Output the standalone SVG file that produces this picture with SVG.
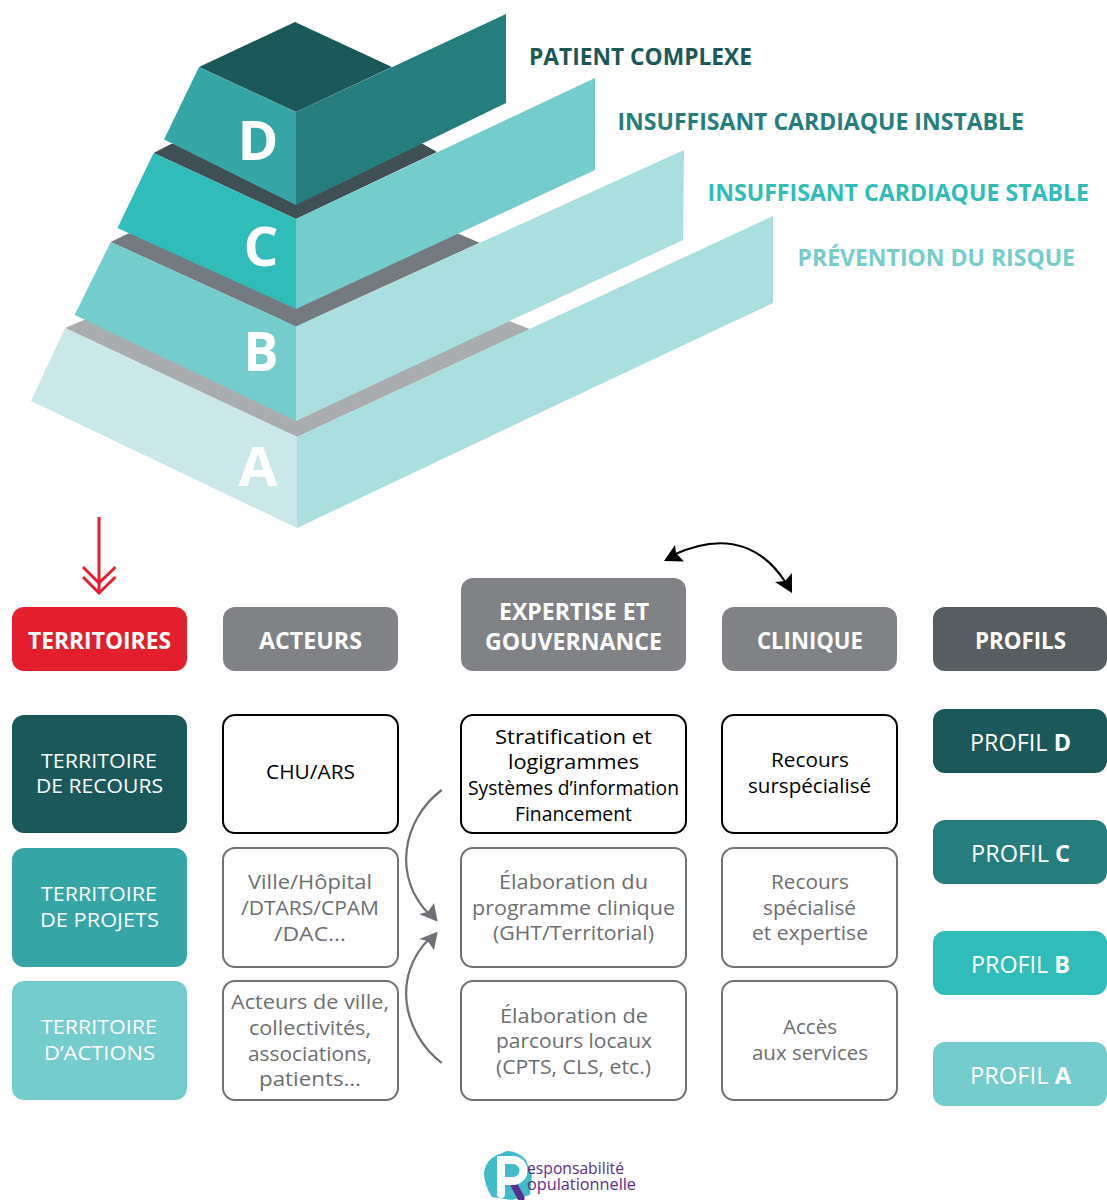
<svg xmlns="http://www.w3.org/2000/svg" width="1107" height="1200" viewBox="0 0 1107 1200">
<style>
text{font-family:"Open Sans","Noto Sans","Liberation Sans",sans-serif}
.t{text-anchor:middle}
.h{font-size:22.5px;font-weight:700;fill:#fff}
.s{font-size:20px;fill:#fff}
.p{font-size:23px;fill:#fff}
.p tspan{font-weight:700}
.b{font-size:20.5px;fill:#000}
.g{font-size:20.5px;fill:#6d6e71}
.big{font-size:53px;font-weight:700;fill:#fff}
.lab{font-size:23px;font-weight:700}
.k{fill:#fff;stroke:#000;stroke-width:2}
.e{fill:#fff;stroke:#6d7275;stroke-width:2}
.cg{fill:none;stroke:#6d7074;stroke-width:2.2}
</style>
<g id="pyramid">
<g id="level-a">
<polygon fill="#a9adb0" points="65,328 84,320 509,321 530,329 297,437"/>
<polygon fill="#cae8ea" points="65,328 297,437 297,528 31,401"/>
<polygon fill="#aadedf" points="297,437 773,216 773,303 550,408 297,528"/>
<text class="t big" x="258" y="486" textLength="39" lengthAdjust="spacingAndGlyphs">A</text>
</g>
<g id="level-b">
<polygon fill="#737a80" points="110.7,242 128,233.5 459,234 479.6,242.8 296,326.5"/>
<polygon fill="#74cccd" points="110.7,242 296,326.5 296,421 74.6,315"/>
<polygon fill="#aadedf" points="296,326.5 684,150 683,240 296,421"/>
<text class="t big" x="261" y="371" textLength="35" lengthAdjust="spacingAndGlyphs">B</text>
</g>
<g id="level-c">
<polygon fill="#404f53" points="153.600,153 171,144 423,144 437,152 296,219"/>
<polygon fill="#30bcb8" points="153.600,153 296,219 296,309 117.500,228"/>
<polygon fill="#74cccd" points="296,219 595,78 595,170 296,309"/>
<text class="t big" x="261" y="266" textLength="35" lengthAdjust="spacingAndGlyphs">C</text>
</g>
<g id="level-d">
<polygon fill="#1a5859" points="295,22 199,67 296,112 392,67"/>
<polygon fill="#35a5a6" points="199,67 296,112 296,205 164,139.500"/>
<polygon fill="#267d7e" points="296,112 506,14 506,103 296,205"/>
<text class="t big" x="258" y="160" textLength="41" lengthAdjust="spacingAndGlyphs">D</text>
</g>
</g>
<g id="pyramid-labels">
<text class="lab" x="529" y="65" fill="#1a5859" textLength="223" lengthAdjust="spacingAndGlyphs">PATIENT COMPLEXE</text>
<text class="lab" x="617.500" y="130" fill="#267d7e" textLength="406.500" lengthAdjust="spacingAndGlyphs">INSUFFISANT CARDIAQUE INSTABLE</text>
<text class="lab" x="707.500" y="201" fill="#30bcb8" textLength="381.500" lengthAdjust="spacingAndGlyphs">INSUFFISANT CARDIAQUE STABLE</text>
<text class="lab" x="797.500" y="266" fill="#74cccd" textLength="277.500" lengthAdjust="spacingAndGlyphs">PRÉVENTION DU RISQUE</text>
</g>
<g id="connectors">
<g id="red-arrow" fill="none" stroke="#e41f2d" stroke-width="3">
<path d="M99 517V592"/>
<path d="M83 567L99 583L115.500 567"/>
<path d="M83 577L99 593L115.500 577"/>
</g>
<path d="M673 555C712 537 755 535 786 583" fill="none" stroke="#000" stroke-width="2.200"/>
<polygon points="664,561 684,561.500 676,553 675,545"/>
<polygon points="792,593 775,582 785,581 792,573"/>
<path class="cg" d="M441.700 790C402 820 392 878 430 915"/>
<polygon fill="#6d7074" points="437.700,921.700 419,914 427.700,912 434,903"/>
<path class="cg" d="M441.700 1063C402 1032 392 975 430 938"/>
<polygon fill="#6d7074" points="437.700,931.700 419,939 427.700,941 434,950"/>
</g>
<g id="header-territoires"><rect x="12" y="607" width="175" height="64" rx="12" fill="#e41f2d"/><text class="t h" x="99.500" y="649" textLength="143" lengthAdjust="spacingAndGlyphs">TERRITOIRES</text></g>
<g id="header-acteurs"><rect x="223" y="607" width="175" height="64" rx="12" fill="#808285"/><text class="t h" x="310.500" y="649" textLength="103" lengthAdjust="spacingAndGlyphs">ACTEURS</text></g>
<g id="header-expertise"><rect x="461" y="578" width="225" height="93" rx="12" fill="#808285"/><text class="t h" x="574" y="620" textLength="150" lengthAdjust="spacingAndGlyphs">EXPERTISE ET</text><text class="t h" x="573.500" y="650" textLength="177" lengthAdjust="spacingAndGlyphs">GOUVERNANCE</text></g>
<g id="header-clinique"><rect x="722" y="607" width="175" height="64" rx="12" fill="#808285"/><text class="t h" x="810" y="649" textLength="106" lengthAdjust="spacingAndGlyphs">CLINIQUE</text></g>
<g id="header-profils"><rect x="933" y="607" width="174" height="64" rx="12" fill="#575e61"/><text class="t h" x="1020.500" y="649" textLength="91" lengthAdjust="spacingAndGlyphs">PROFILS</text></g>

<g id="territoire-recours"><rect x="12" y="715" width="175" height="118" rx="12" fill="#1a5859"/><text class="t s" x="99" y="768" textLength="116" lengthAdjust="spacingAndGlyphs">TERRITOIRE</text><text class="t s" x="99.500" y="793" textLength="127" lengthAdjust="spacingAndGlyphs">DE RECOURS</text></g>
<g id="territoire-projets"><rect x="12" y="848" width="175" height="119" rx="12" fill="#35a5a6"/><text class="t s" x="99" y="901" textLength="116" lengthAdjust="spacingAndGlyphs">TERRITOIRE</text><text class="t s" x="99.500" y="927" textLength="119" lengthAdjust="spacingAndGlyphs">DE PROJETS</text></g>
<g id="territoire-actions"><rect x="12" y="981" width="175" height="119" rx="12" fill="#74cccd"/><text class="t s" x="99" y="1034" textLength="116" lengthAdjust="spacingAndGlyphs">TERRITOIRE</text><text class="t s" x="99.500" y="1060" textLength="111" lengthAdjust="spacingAndGlyphs">D’ACTIONS</text></g>

<g id="acteurs-1"><rect class="k" x="223" y="715" width="175" height="118" rx="12"/><text class="t b" x="310.500" y="779" textLength="89" lengthAdjust="spacingAndGlyphs">CHU/ARS</text></g>
<g id="acteurs-2"><rect class="e" x="223" y="848" width="175" height="119" rx="12"/><text class="t g" x="310" y="889" textLength="124" lengthAdjust="spacingAndGlyphs">Ville/Hôpital</text><text class="t g" x="310" y="915" textLength="138" lengthAdjust="spacingAndGlyphs">/DTARS/CPAM</text><text class="t g" x="310" y="941" textLength="72" lengthAdjust="spacingAndGlyphs">/DAC…</text></g>
<g id="acteurs-3"><rect class="e" x="223" y="981" width="175" height="119" rx="12"/><text class="t g" x="310" y="1009" textLength="158" lengthAdjust="spacingAndGlyphs">Acteurs de ville,</text><text class="t g" x="310" y="1035" textLength="122" lengthAdjust="spacingAndGlyphs">collectivités,</text><text class="t g" x="310" y="1061" textLength="124" lengthAdjust="spacingAndGlyphs">associations,</text><text class="t g" x="310" y="1086" textLength="102" lengthAdjust="spacingAndGlyphs">patients…</text></g>

<g id="expertise-1"><rect class="k" x="461" y="715" width="225" height="118" rx="12"/><text class="t b" x="573.500" y="744" textLength="157" lengthAdjust="spacingAndGlyphs">Stratification et</text><text class="t b" x="573.500" y="769" textLength="131" lengthAdjust="spacingAndGlyphs">logigrammes</text><text class="t b" x="573.500" y="795" textLength="211" lengthAdjust="spacingAndGlyphs">Systèmes d’information</text><text class="t b" x="573.500" y="821" textLength="117" lengthAdjust="spacingAndGlyphs">Financement</text></g>
<g id="expertise-2"><rect class="e" x="461" y="848" width="225" height="119" rx="12"/><text class="t g" x="573.500" y="889" textLength="149" lengthAdjust="spacingAndGlyphs">Élaboration du</text><text class="t g" x="573.500" y="915" textLength="203" lengthAdjust="spacingAndGlyphs">programme clinique</text><text class="t g" x="573.500" y="940" textLength="161" lengthAdjust="spacingAndGlyphs">(GHT/Territorial)</text></g>
<g id="expertise-3"><rect class="e" x="461" y="981" width="225" height="119" rx="12"/><text class="t g" x="574" y="1023" textLength="148" lengthAdjust="spacingAndGlyphs">Élaboration de</text><text class="t g" x="574" y="1048" textLength="156" lengthAdjust="spacingAndGlyphs">parcours locaux</text><text class="t g" x="573.500" y="1074" textLength="155" lengthAdjust="spacingAndGlyphs">(CPTS, CLS, etc.)</text></g>

<g id="clinique-1"><rect class="k" x="722" y="715" width="175" height="118" rx="12"/><text class="t b" x="810" y="767" textLength="78" lengthAdjust="spacingAndGlyphs">Recours</text><text class="t b" x="809.500" y="793" textLength="123" lengthAdjust="spacingAndGlyphs">surspécialisé</text></g>
<g id="clinique-2"><rect class="e" x="722" y="848" width="175" height="119" rx="12"/><text class="t g" x="810" y="889" textLength="78" lengthAdjust="spacingAndGlyphs">Recours</text><text class="t g" x="809.500" y="915" textLength="93" lengthAdjust="spacingAndGlyphs">spécialisé</text><text class="t g" x="810" y="940" textLength="116" lengthAdjust="spacingAndGlyphs">et expertise</text></g>
<g id="clinique-3"><rect class="e" x="722" y="981" width="175" height="119" rx="12"/><text class="t g" x="810" y="1034" textLength="54" lengthAdjust="spacingAndGlyphs">Accès</text><text class="t g" x="810" y="1060" textLength="116" lengthAdjust="spacingAndGlyphs">aux services</text></g>

<g id="profil-d"><rect x="933" y="709" width="174" height="64" rx="12" fill="#1a5859"/><text class="t p" x="1020.500" y="751" textLength="101" lengthAdjust="spacingAndGlyphs">PROFIL <tspan>D</tspan></text></g>
<g id="profil-c"><rect x="933" y="820" width="174" height="64" rx="12" fill="#267d7e"/><text class="t p" x="1020.500" y="862" textLength="99" lengthAdjust="spacingAndGlyphs">PROFIL <tspan>C</tspan></text></g>
<g id="profil-b"><rect x="933" y="931" width="174" height="64" rx="12" fill="#30bcb8"/><text class="t p" x="1020.500" y="973" textLength="99" lengthAdjust="spacingAndGlyphs">PROFIL <tspan>B</tspan></text></g>
<g id="profil-a"><rect x="933" y="1042" width="174" height="64" rx="12" fill="#74cccd"/><text class="t p" x="1020.500" y="1084" textLength="101" lengthAdjust="spacingAndGlyphs">PROFIL <tspan>A</tspan></text></g>

<g id="logo">
<path d="M484 1172Q486 1160 497 1155L507 1151Q518 1151 526 1160L532 1175L530 1195L512 1200L492 1197Q484 1185 484 1172Z" fill="#40bcc6"/>
<path d="M513 1183L521 1198" fill="none" stroke="#5c2d91" stroke-width="7" stroke-linecap="round"/>
<path d="M501 1194V1160H513A10.500 10.500 0 0 1 513 1181H503" fill="none" stroke="#fff" stroke-width="8" stroke-linecap="round"/>
<text x="527" y="1174" font-size="16" fill="#5c2d91" textLength="97" lengthAdjust="spacingAndGlyphs">esponsabilité</text>
<text x="527" y="1190" font-size="16" fill="#5c2d91" textLength="109" lengthAdjust="spacingAndGlyphs">opulationnelle</text>
</g>
</svg>
